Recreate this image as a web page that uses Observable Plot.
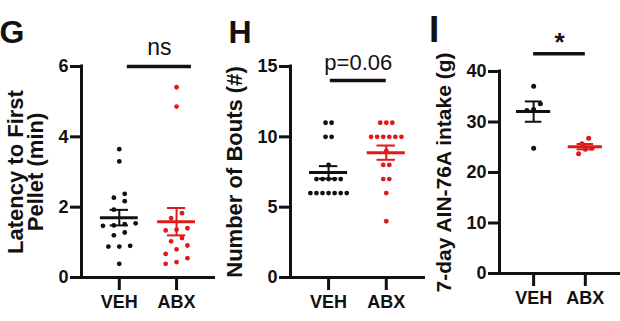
<!DOCTYPE html>
<html>
<head>
<meta charset="utf-8">
<script src="https://cdn.jsdelivr.net/npm/d3@7"></script>
<script src="https://cdn.jsdelivr.net/npm/@observablehq/plot@0.6"></script>
<style>
  html, body { margin: 0; padding: 0; background: #fff; }
  #fig { position: relative; width: 620px; height: 321px; overflow: hidden; }
  #fig svg { position: absolute; top: 0; }
</style>
</head>
<body>
<div id="fig"></div>
<script>
const groups = ["VEH", "ABX"];

// G: latency to first pellet (min)
const latencyVEH = [3.65, 3.30, 2.38, 2.27, 2.17, 1.93, 1.54, 1.52, 1.48, 1.47, 1.28, 1.20, 0.90, 0.88, 0.88, 0.39];
const latencyABX = [5.41, 4.86, 1.83, 1.69, 1.40, 1.36, 1.34, 1.12, 1.03, 0.91, 0.80, 0.67, 0.55, 0.44, 0.39];
const latencyTicks = [0, 2, 4, 6];

// H: number of feeding bouts
const boutsVEH = [11, 11, 10, 10, 8, 7, 7, 7, 7, 7, 6, 6, 6, 6, 6, 6, 6];
const boutsABX = [11, 11, 11, 10, 10, 10, 10, 10, 10, 9, 8, 8, 7, 7, 6, 4];
const boutsTicks = [0, 5, 10, 15];

// I: 7-day AIN-76A intake (g)
const intakeVEH = [37.1, 33.6, 32.5, 32.3, 24.8];
const intakeABX = [26.8, 25.7, 24.8, 24.6, 23.7];
const intakeTicks = [0, 10, 20, 30, 40];

// comparison brackets (group positions 0 = VEH, 1 = ABX; height in data units)
const latencyBracket = {x1: 0.14, x2: 1.26, y: 6, label: "ns"};
const boutsBracket = {x1: 0.03, x2: 1.0, y: 14, label: "p=0.06"};
const intakeBracket = {x1: 0, x2: 1, y: 43.5, label: "*"};

const RED = "#de1a1a";
const INK = "#111";
const FONT = "Arial, 'Liberation Sans', sans-serif";

// Scatter layout: values that fall close together share a row and are
// spread symmetrically around the group centre.
function spread(values, gi, bin, step) {
  const sorted = values.slice().sort((a, b) => a - b);
  const out = [];
  let i = 0;
  while (i < sorted.length) {
    let j = i;
    while (j + 1 < sorted.length && sorted[j + 1] - sorted[i] <= bin) j++;
    const n = j - i + 1;
    for (let k = 0; k < n; k++) {
      out.push({group: groups[gi], value: sorted[i + k], x: gi + (k - (n - 1) / 2) * step});
    }
    i = j + 1;
  }
  return out;
}

// mean ± SEM per group
function summary(values, gi) {
  const m = d3.mean(values);
  const sem = d3.deviation(values) / Math.sqrt(values.length);
  return {group: groups[gi], x: gi, mean: m, lo: m - sem, hi: m + sem};
}

function panel(cfg) {
  const pts = [
    ...spread(cfg.veh, 0, cfg.bin, cfg.step),
    ...spread(cfg.abx, 1, cfg.bin, cfg.step)
  ];
  const stats = [summary(cfg.veh, 0), summary(cfg.abx, 1)];
  const xDomain = [-0.66, 1.68];
  const ymax = cfg.ticks[cfg.ticks.length - 1];
  const b = cfg.bracket;

  const svg = Plot.plot({
    width: cfg.width,
    height: 321,
    marginLeft: cfg.marginLeft,
    marginRight: cfg.marginRight,
    marginTop: cfg.marginTop,
    marginBottom: cfg.marginBottom,
    x: {domain: xDomain},
    y: {domain: [0, ymax]},
    color: {domain: groups, range: [INK, RED]},
    style: {background: "transparent", fontFamily: FONT, color: INK, overflow: "visible"},
    marks: [
      Plot.axisY({ticks: cfg.ticks, tickFormat: d => `${d}`, tickSize: 11, tickPadding: 2, strokeWidth: 3,
                  fontSize: 18, fontWeight: "bold", label: null}),
      Plot.axisX({ticks: [0, 1], tickFormat: i => groups[i], tickSize: 13, tickPadding: 5,
                  strokeWidth: 3, fontSize: 18, fontWeight: "bold", label: null}),
      Plot.ruleX([xDomain[0]], {y1: 0, y2: ymax, strokeWidth: 3, stroke: INK, strokeLinecap: "square"}),
      Plot.ruleY([0], {strokeWidth: 3, stroke: INK}),
      Plot.dot(pts, {x: "x", y: "value", r: cfg.r, fill: "group", stroke: null}),
      Plot.ruleY(stats, {x1: d => d.x - 0.33, x2: d => d.x + 0.33, y: "mean", stroke: "group", strokeWidth: 3}),
      Plot.ruleX(stats, {x: "x", y1: "lo", y2: "hi", stroke: "group", strokeWidth: 2}),
      Plot.ruleY(stats, {x1: d => d.x - 0.16, x2: d => d.x + 0.16, y: "hi", stroke: "group", strokeWidth: 2}),
      Plot.ruleY(stats, {x1: d => d.x - 0.16, x2: d => d.x + 0.16, y: "lo", stroke: "group", strokeWidth: 2}),
      Plot.ruleY([b], {x1: "x1", x2: "x2", y: "y", stroke: INK, strokeWidth: 3.5}),
      Plot.text([b], {x: d => (d.x1 + d.x2) / 2, y: "y", text: "label", dy: cfg.labelDy,
                      lineAnchor: "bottom", fontSize: cfg.labelSize, fontWeight: cfg.labelWeight, fill: INK}),
      Plot.text([cfg.title], {frameAnchor: "left", dx: -54.5, rotate: -90, text: d => d,
                              textAnchor: "middle", fontSize: cfg.titleSize, fontWeight: "bold", lineHeight: 0.9,
                              lineAnchor: "middle", fill: INK}),
      Plot.text([cfg.letter], {frameAnchor: "top-left", dx: cfg.letterDx, dy: cfg.letterDy, text: d => d,
                               textAnchor: "start", lineAnchor: "bottom", fontSize: cfg.letterSize,
                               fontWeight: "bold", fill: INK})
    ]
  });
  svg.style.left = cfg.left + "px";
  return svg;
}

const fig = document.getElementById("fig");

fig.append(panel({
  letter: "G", title: "Latency to First\nPellet (min)", titleSize: 22,
  veh: latencyVEH, abx: latencyABX, ticks: latencyTicks, bracket: latencyBracket,
  left: 0, width: 220, marginLeft: 81, marginRight: 5, marginTop: 66, marginBottom: 44,
  bin: 0.25, step: 0.19, r: 2.4,
  labelDy: -12, labelSize: 23, labelWeight: "normal",
  letterDx: -82, letterDy: -24, letterSize: 32
}));

fig.append(panel({
  letter: "H", title: "Number of Bouts (#)", titleSize: 22,
  veh: boutsVEH, abx: boutsABX, ticks: boutsTicks, bracket: boutsBracket,
  left: 220, width: 210, marginLeft: 70, marginRight: 5, marginTop: 66, marginBottom: 44,
  bin: 0.4, step: 0.105, r: 2.4,
  labelDy: -11, labelSize: 22, labelWeight: "normal",
  letterDx: -62, letterDy: -24, letterSize: 32
}));

fig.append(panel({
  letter: "I", title: "7-day AIN-76A intake (g)", titleSize: 21,
  veh: intakeVEH, abx: intakeABX, ticks: intakeTicks, bracket: intakeBracket,
  left: 425, width: 195, marginLeft: 74, marginRight: 0, marginTop: 71, marginBottom: 48,
  bin: 1.6, step: 0.13, r: 2.5,
  labelDy: -3, labelSize: 26, labelWeight: "bold",
  letterDx: -70.5, letterDy: -30, letterSize: 37
}));
</script>
</body>
</html>
